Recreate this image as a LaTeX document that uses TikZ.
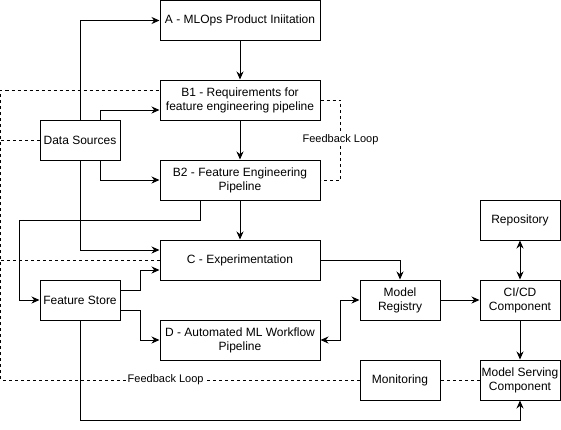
\documentclass[tikz,border=0pt]{standalone}
\usepackage{fontspec}
\setmainfont{Liberation Sans}
\usetikzlibrary{arrows.meta}

\begin{document}
\begin{tikzpicture}[x=1pt, y=-1pt, line width=1pt,
    blk/.style={draw, align=center, inner sep=0pt, font=\fontsize{12}{14}\selectfont},
    wide/.style={blk, minimum width=160pt, minimum height=40pt},
    small/.style={blk, minimum width=80pt, minimum height=40pt},
    arr/.style={-{Stealth[length=8pt, width=7pt]}},
    biarr/.style={{Stealth[length=8pt, width=7pt]}-{Stealth[length=8pt, width=7pt]}},
    fb/.style={dash pattern=on 3pt off 3pt},
    lbl/.style={fill=white, inner sep=1pt, font=\fontsize{11}{13}\selectfont}]
    \useasboundingbox (0,0) rectangle (561,429);

    % stages
    \node[wide] (a) at (240,20.5) {A - MLOps Product Iniitation};
    \node[wide] (b1) at (240,100) {B1 - Requirements for\\feature engineering pipeline};
    \node[wide] (b2) at (240,180) {B2 - Feature Engineering\\Pipeline};
    \node[wide] (c) at (240,260) {C - Experimentation};
    \node[wide] (d) at (240,340) {D - Automated ML Workflow\\Pipeline};

    \node[small] (src) at (80,140) {Data Sources};
    \node[small] (fs) at (80,300) {Feature Store};
    \node[small] (reg) at (400,300) {Model\\Registry};
    \node[small] (cicd) at (520,300) {CI/CD\\Component};
    \node[small] (repo) at (520,220) {Repository};
    \node[small] (mon) at (400,380) {Monitoring};
    \node[small] (serve) at (520,380) {Model Serving\\Component};

    % data sources
    \draw[arr] (src.north) |- (a.west);
    \draw[arr] ([xshift=20pt]src.north) |- ([yshift=-10pt]b1.west);
    \draw[arr] ([xshift=20pt]src.south) |- (b2.west);
    \draw[arr] (src.south) |- ([yshift=10pt]c.west);

    % main flow
    \draw[arr] (a) -- (b1);
    \draw[arr] (b1) -- (b2);
    \draw[arr] (b2) -- (c);
    \draw[arr] ([xshift=-40pt]b2.south) -- ++(0,20) -| ([xshift=-20pt]fs.west) -- (fs.west);

    % feature store
    \draw[arr] ([yshift=10pt]fs.east) -- ++(20,0) |- ([yshift=-10pt]c.west);
    \draw[arr] ([yshift=-10pt]fs.east) -- ++(20,0) |- (d.west);
    \draw[arr] (fs.south) -- ++(0,100) -| (serve.south);

    % registry and deployment
    \draw[arr] (c.east) -| (reg.north);
    \draw[biarr] (d.east) -- ++(20,0) |- (reg.west);
    \draw[arr] (reg) -- (cicd);
    \draw[biarr] (repo) -- (cicd);
    \draw[arr] (cicd) -- (serve);

    % feedback loops
    \draw[fb] (serve) -- (mon);
    \draw[fb] (mon.west) -- node[lbl, pos=0.54] {Feedback Loop} ++(-359,0) |- ([yshift=10pt]b1.west);
    \draw[fb] (src.west) -- ++(-39,0);
    \draw[fb] (c.west) -- ++(-159,0);
    \draw[fb] (b1.east) -- ++(20,0) |- node[lbl, pos=0.25] {Feedback Loop} (b2.east);
\end{tikzpicture}
\end{document}
